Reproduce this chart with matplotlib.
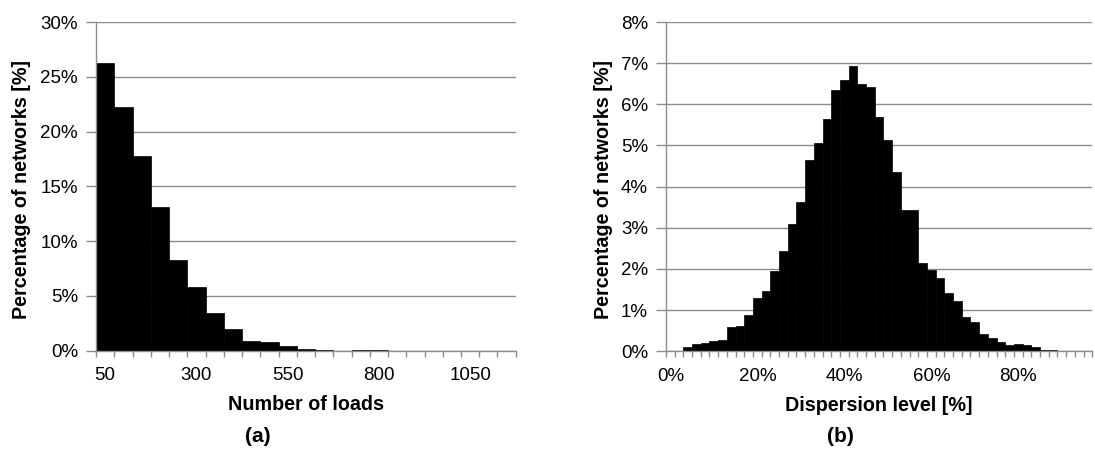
import matplotlib
matplotlib.use("Agg")
import matplotlib.pyplot as plt
import numpy as np
from matplotlib.ticker import FuncFormatter

plt.rcParams['font.family'] = ['Liberation Sans', 'DejaVu Sans']

# (a) distribution of network sizes, bins of 50 loads
load_bins = [50, 100, 150, 200, 250, 300, 350, 400, 450, 500, 550, 600,
             650, 700, 750, 800, 850, 900, 950, 1000, 1050, 1100, 1150]
load_share = [26.3, 22.2, 17.8, 13.1, 8.3, 5.8, 3.4, 1.95, 0.9, 0.75, 0.41, 0.14,
              0.03, 0.0, 0.05, 0.03, 0.0, 0.0, 0.0, 0.0, 0.0, 0.0, 0.0]
load_ticks = [50, 300, 550, 800, 1050]
load_yticks = [0, 5, 10, 15, 20, 25, 30]

# (b) distribution of dispersion level, bins of 2 %
disp_bins = [0, 2, 4, 6, 8, 10, 12, 14, 16, 18, 20, 22, 24, 26, 28, 30, 32, 34,
             36, 38, 40, 42, 44, 46, 48, 50, 52, 54, 56, 58, 60, 62, 64, 66, 68,
             70, 72, 74, 76, 78, 80, 82, 84, 86, 88, 90, 92, 94, 96]
disp_share = [0.0, 0.0, 0.10, 0.17, 0.19, 0.24, 0.27, 0.58, 0.61, 0.89, 1.30,
              1.46, 1.94, 2.44, 3.09, 3.63, 4.64, 5.05, 5.64, 6.35, 6.59, 6.94,
              6.49, 6.41, 5.70, 5.13, 4.36, 3.44, 3.44, 2.15, 1.98, 1.78, 1.41,
              1.22, 0.83, 0.71, 0.42, 0.32, 0.23, 0.16, 0.18, 0.15, 0.10, 0.04,
              0.02, 0.015, 0.0, 0.0, 0.0]
disp_ticks = [0, 20, 40, 60, 80]
disp_yticks = [0, 1, 2, 3, 4, 5, 6, 7, 8]

GRAY = '#8c8c8c'
TICK_FS = 13.5
LABEL_FS = 14.2
H = 453.0

fig = plt.figure(figsize=(10.95, 4.53), dpi=100)
ax_a = fig.add_axes([0.0877, 0.2258, 0.3833, 0.7256])
ax_b = fig.add_axes([0.6082, 0.2245, 0.3893, 0.7269])


def draw_hist(ax, bins, share, label_vals, label_fmt, yticks, xlabel,
              ylabel_x, tag, tag_x):
    n = len(bins)
    pos = np.arange(n)
    ax.bar(pos, share, width=1.0, color='black', edgecolor='black', linewidth=0.5,
           zorder=3)
    ax.set_xlim(-0.5, n - 0.5)
    ax.set_ylim(yticks[0], yticks[-1])

    # category labels at bar centres, tick marks at category boundaries
    label_pos = [bins.index(v) for v in label_vals]
    ax.set_xticks(label_pos)
    ax.set_xticklabels([label_fmt(v) for v in label_vals], fontsize=TICK_FS)
    ax.set_xticks(np.arange(n + 1) - 0.5, minor=True)
    ax.tick_params(axis='x', which='major', length=0, pad=12)
    ax.tick_params(axis='x', which='minor', length=4.2, width=1, color=GRAY,
                   direction='out')

    ax.set_yticks(yticks)
    ax.yaxis.set_major_formatter(FuncFormatter(lambda v, p: f'{v:.0f}%'))
    ax.tick_params(axis='y', length=7, width=1, color=GRAY, labelsize=TICK_FS,
                   pad=6)

    ax.grid(axis='y', color=GRAY, linewidth=1, zorder=0)
    ax.set_axisbelow(True)
    for side in ('top', 'right'):
        ax.spines[side].set_visible(False)
    for side in ('left', 'bottom'):
        ax.spines[side].set_color(GRAY)
        ax.spines[side].set_linewidth(1)
        ax.spines[side].set_zorder(4)

    ax.set_xlabel(xlabel, fontsize=LABEL_FS, fontweight='bold')
    ax.xaxis.set_label_coords(0.5, -0.164)
    ax.xaxis.label.set_va('center')
    ax.set_ylabel('Percentage of networks [%]', fontsize=LABEL_FS,
                  fontweight='bold')
    ax.yaxis.set_label_coords(ylabel_x, 0.49)
    ax.yaxis.label.set_va('center')
    fig.text(tag_x, 1 - 437 / H, tag, fontsize=15, fontweight='bold',
             ha='center', va='center')


draw_hist(ax_a, load_bins, load_share, load_ticks, lambda v: f'{v}',
          load_yticks, 'Number of loads', -0.177, '(a)', 258 / 1095)
draw_hist(ax_b, disp_bins, disp_share, disp_ticks, lambda v: f'{v}%',
          disp_yticks, 'Dispersion level [%]', -0.147, '(b)', 840 / 1095)

fig.savefig('out.png', dpi=100)
